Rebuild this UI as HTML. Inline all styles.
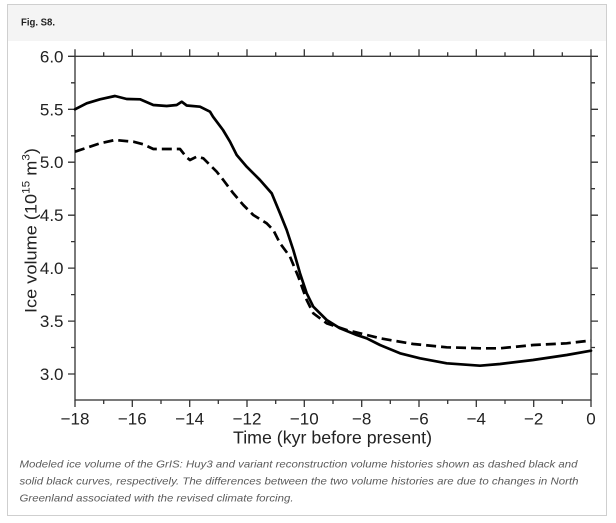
<!DOCTYPE html>
<html><head><meta charset="utf-8"><style>
html,body{margin:0;padding:0;background:#fff;}
svg{display:block;}
</style></head><body>
<svg width="616" height="523" viewBox="0 0 616 523" xmlns="http://www.w3.org/2000/svg">
<rect x="0" y="0" width="616" height="523" fill="#fff"/>
<rect x="7.5" y="4.5" width="599" height="511" fill="#fff" stroke="#cfcfcf" stroke-width="1"/>
<rect x="8" y="5" width="598" height="36" fill="#f4f4f4"/>
<text x="21" y="25.3" font-family="Liberation Sans, sans-serif" font-weight="bold" font-size="10" fill="#222" textLength="34" lengthAdjust="spacingAndGlyphs">Fig. S8.</text>

<g stroke="#333" stroke-width="1.3" fill="none">
<rect x="75" y="56.3" width="516" height="343.7"/>
<path d="M75 400v7M132.3 400v7M189.7 400v7M247 400v7M304.3 400v7M361.7 400v7M419 400v7M476.3 400v7M533.7 400v7M591 400v7
M103.7 400v4M161 400v4M218.3 400v4M275.7 400v4M333 400v4M390.3 400v4M447.7 400v4M505 400v4M562.3 400v4
M75 56.3v-7M132.3 56.3v-7M189.7 56.3v-7M247 56.3v-7M304.3 56.3v-7M361.7 56.3v-7M419 56.3v-7M476.3 56.3v-7M533.7 56.3v-7M591 56.3v-7
M103.7 56.3v-4M161 56.3v-4M218.3 56.3v-4M275.7 56.3v-4M333 56.3v-4M390.3 56.3v-4M447.7 56.3v-4M505 56.3v-4M562.3 56.3v-4"/>
<path d="M75 56.3h-7M75 109.3h-7M75 162.2h-7M75 215.2h-7M75 268.1h-7M75 321.1h-7M75 374h-7
M75 82.8h-4M75 135.8h-4M75 188.7h-4M75 241.6h-4M75 294.6h-4M75 347.5h-4
M591 56.3h7M591 109.3h7M591 162.2h7M591 215.2h7M591 268.1h7M591 321.1h7M591 374h7
M591 82.8h4M591 135.8h4M591 188.7h4M591 241.6h4M591 294.6h4M591 347.5h4"/>
</g>

<g font-family="Liberation Sans, sans-serif" font-size="17" fill="#222" text-anchor="end">
<text x="63.5" y="62.3">6.0</text>
<text x="63.5" y="115.3">5.5</text>
<text x="63.5" y="168.2">5.0</text>
<text x="63.5" y="221.2">4.5</text>
<text x="63.5" y="274.1">4.0</text>
<text x="63.5" y="327.1">3.5</text>
<text x="63.5" y="380">3.0</text>
</g>
<g font-family="Liberation Sans, sans-serif" font-size="17" fill="#222" text-anchor="middle">
<text x="75" y="424.5">−18</text>
<text x="132.3" y="424.5">−16</text>
<text x="189.7" y="424.5">−14</text>
<text x="247" y="424.5">−12</text>
<text x="304.3" y="424.5">−10</text>
<text x="361.7" y="424.5">−8</text>
<text x="419" y="424.5">−6</text>
<text x="476.3" y="424.5">−4</text>
<text x="533.7" y="424.5">−2</text>
<text x="591" y="424.5">0</text>
</g>
<text x="233" y="443.5" font-family="Liberation Sans, sans-serif" font-size="17.5" fill="#222" textLength="199" lengthAdjust="spacingAndGlyphs">Time (kyr before present)</text>
<text transform="translate(36.5,313) rotate(-90)" font-family="Liberation Sans, sans-serif" font-size="17" fill="#222" textLength="165" lengthAdjust="spacingAndGlyphs">Ice volume (10<tspan font-size="11" dy="-7">15</tspan><tspan dy="7"> m</tspan><tspan font-size="11" dy="-7">3</tspan><tspan dy="7">)</tspan></text>

<polyline fill="none" stroke="#000" stroke-width="2.7" stroke-linejoin="round" stroke-linecap="round"
points="75,109.3 86.7,103.3 100,99.3 115,96 126.7,99 140,99.3 153.3,105 166.7,106 176.7,105 181.7,101.7 186.7,105.5 200,106.7 210,111.7 213,116.7 223,130 230,141.7 236.7,155 246.7,166.7 260,180 271.7,193.3 280,213.3 286.7,230 293.3,250 300,273.3 306.7,293.3 313.3,306.7 326.7,320 340,328.3 356.7,335 366.7,338.3 380,345 400,353.3 420,358.3 446.7,363.3 480,365.7 500,364 533,360 566.7,355 591,350.7"/>
<polyline fill="none" stroke="#000" stroke-width="2.7" stroke-linejoin="round" stroke-dasharray="10 5"
points="75,151.7 100,143.3 115,140 133.3,141.7 143.3,144.3 153.3,149 166.7,149 180,149 186.7,157.5 190,160 196.7,156.7 203.3,158.3 210,165 216.7,171.7 223.3,180 233.3,193.3 243.3,205 253.3,215 266.7,223.3 273.3,230 280,243.3 290,256.7 298.3,276.7 306.7,300 313.3,313.3 326.7,323.3 346.7,330 360,333.3 380,338.3 413.3,344 446.7,347.3 480,348.3 500,348.3 533.3,345 566.7,343.3 591,340.5"/>

<g font-family="Liberation Sans, sans-serif" font-style="italic" font-size="10.5" fill="#5a5a5a">
<text x="19.5" y="467.3" textLength="558" lengthAdjust="spacingAndGlyphs">Modeled ice volume of the GrIS: Huy3 and variant reconstruction volume histories shown as dashed black and</text>
<text x="19.5" y="484.3" textLength="559" lengthAdjust="spacingAndGlyphs">solid black curves, respectively. The differences between the two volume histories are due to changes in North</text>
<text x="19.5" y="501.3" textLength="274" lengthAdjust="spacingAndGlyphs">Greenland associated with the revised climate forcing.</text>
</g>
</svg>
</body></html>
